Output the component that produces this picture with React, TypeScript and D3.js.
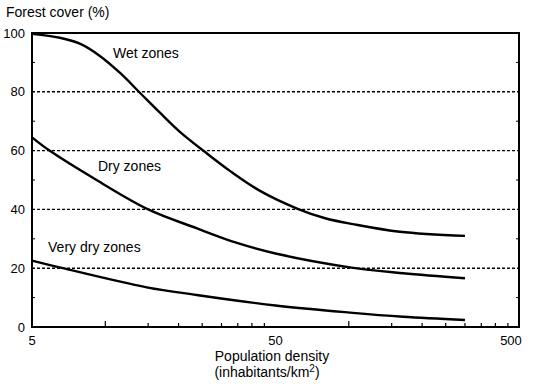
import React from 'react'
import * as d3 from 'd3'

const width = 535
const height = 384
const margin = { left: 32, right: 16, top: 33, bottom: 57 }

// population density (inhabitants/km2) and forest cover (%) for each zone
const wetDensity = [5, 6.5, 7.9, 9.5, 11.5, 13.9, 16.8, 20.3, 25.7, 32.5, 43.2, 61.3, 80, 104, 162, 300]
const wetCover = [99.7, 98.4, 96.3, 92.2, 86.4, 79.6, 72.8, 66.3, 59.5, 53.1, 46.3, 40.3, 37, 35, 32.4, 31]

const dryDensity = [5, 5.9, 9.2, 15, 23.7, 35, 50, 101, 167, 300]
const dryCover = [64.5, 60, 50, 40, 33.6, 28.5, 25, 20.3, 18.3, 16.6]

const veryDryDensity = [5, 6.7, 14.8, 23.7, 50, 101, 167, 300]
const veryDryCover = [22.6, 20, 13.5, 10.9, 7.3, 4.9, 3.5, 2.4]

const zoneLabels = ['Wet zones', 'Dry zones', 'Very dry zones']
// where each zone label sits (density, cover)
const labelDensity = [10.75, 9.33, 5.82]
const labelCover = [91.5, 53, 25.5]

const xLabels = [5, 50, 500]
const xMinor = [10, 15, 20, 25, 30, 35, 40, 45, 100, 150, 200, 250, 300, 350, 400, 450]
const yLabels = [0, 20, 40, 60, 80, 100]
const yGrid = [20, 40, 60, 80]
const yMinor = [10, 30, 50, 70, 90]

const font = '"Liberation Sans", Arial, sans-serif'

function App() {
  const x = d3
    .scaleLog()
    .domain([5, 500])
    .range([margin.left, width - margin.right])

  const y = d3
    .scaleLinear()
    .domain([0, 100])
    .range([height - margin.bottom, margin.top])

  const line = d3
    .line<[number, number]>()
    .x((d) => x(d[0]))
    .y((d) => y(d[1]))
    .curve(d3.curveCatmullRom.alpha(0.5))

  const series = [
    d3.zip(wetDensity, wetCover) as [number, number][],
    d3.zip(dryDensity, dryCover) as [number, number][],
    d3.zip(veryDryDensity, veryDryCover) as [number, number][],
  ]

  const x0 = x(5)
  const x1 = x(500)
  const y0 = y(0)
  const y1 = y(100)

  return (
    <svg
      width={width}
      height={height}
      style={{ position: 'absolute', left: 0, top: 0, background: 'white' }}
      fontFamily={font}
    >
      <text x={6} y={17} fontSize={14}>
        Forest cover (%)
      </text>

      {yGrid.map((v) => (
        <line
          key={'g' + v}
          x1={x0}
          x2={x1}
          y1={y(v)}
          y2={y(v)}
          stroke="black"
          strokeWidth={1.4}
          strokeDasharray="3,2"
        />
      ))}

      {yMinor.map((v) => (
        <g key={'ym' + v}>
          <line x1={x0} x2={x0 + 3} y1={y(v)} y2={y(v)} stroke="black" strokeWidth={1} />
          <line x1={x1} x2={x1 - 3} y1={y(v)} y2={y(v)} stroke="black" strokeWidth={1} />
        </g>
      ))}

      {xMinor.map((v) => (
        <line
          key={'xm' + v}
          x1={x(v)}
          x2={x(v)}
          y1={y0}
          y2={y0 - (v === 10 || v === 100 ? 6 : 4)}
          stroke="black"
          strokeWidth={1.2}
        />
      ))}

      {/* frame */}
      <line x1={x0} x2={x1} y1={y1} y2={y1} stroke="black" strokeWidth={2} />
      <line x1={x0} x2={x1} y1={y0} y2={y0} stroke="black" strokeWidth={2} />
      <line x1={x0} x2={x0} y1={y1 - 1} y2={y0 + 1} stroke="black" strokeWidth={2} />
      <line x1={x1} x2={x1} y1={y1 - 1} y2={y0 + 1} stroke="black" strokeWidth={2} />

      {series.map((s, i) => (
        <path key={'s' + i} d={line(s) ?? ''} fill="none" stroke="black" strokeWidth={2.4} />
      ))}

      {zoneLabels.map((t, i) => (
        <text key={t} x={x(labelDensity[i])} y={y(labelCover[i])} fontSize={14}>
          {t}
        </text>
      ))}

      {yLabels.map((v) => (
        <text
          key={'yl' + v}
          x={25}
          y={y(v)}
          fontSize={13}
          textAnchor="end"
          dominantBaseline="central"
        >
          {v}
        </text>
      ))}

      {xLabels.map((v) => (
        <text key={'xl' + v} x={x(v) - (v === 500 ? 8 : 0)} y={345} fontSize={13} textAnchor="middle">
          {v}
        </text>
      ))}

      <text x={272} y={361} fontSize={14} textAnchor="middle">
        Population density
      </text>
      <text x={267} y={377} fontSize={14} textAnchor="middle">
        (inhabitants/km
        <tspan fontSize={10} dy={-5}>
          2
        </tspan>
        <tspan dy={5}>)</tspan>
      </text>
    </svg>
  )
}

export default App
